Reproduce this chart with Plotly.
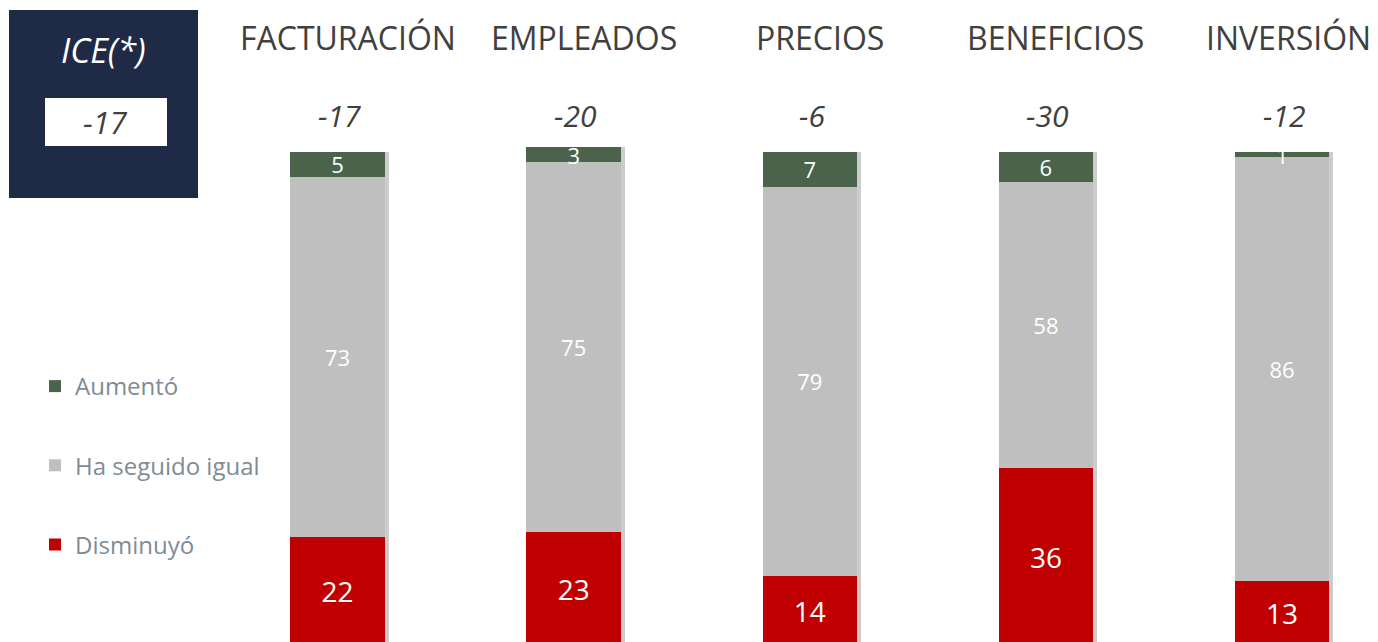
import plotly.graph_objects as go

categorias = ["FACTURACIÓN", "EMPLEADOS", "PRECIOS", "BENEFICIOS", "INVERSIÓN"]
disminuyo = [22, 23, 14, 36, 13]
igual = [73, 75, 79, 58, 86]
aumento = [5, 3, 7, 6, 1]
ice_valores = ["-17", "-20", "-6", "-30", "-12"]
ice_total = "-17"

VERDE = "#4B634B"
GRIS = "#BFBFBF"
ROJO = "#C00000"
NAVY = "#1F2B46"
TEXTO = "#404040"
LEYENDA = "#7F8B97"
FUENTE = "Open Sans"

# la pagina deja 8px de margen, asi que la figura ocupa 1370x634
W, H = 1370, 634
totales = [a + b + c for a, b, c in zip(disminuyo, igual, aumento)]


def px_x(p):
    return p / W


def px_y(p):
    return 1 - p / H


fig = go.Figure()

# sombra de las barras (eje base desplazado unos pixeles)
fig.add_trace(go.Bar(x=categorias, y=totales, xaxis="x", yaxis="y",
                     marker=dict(color="rgba(0,0,0,0.2)", line_width=0),
                     width=0.40, showlegend=False, hoverinfo="skip"))

series = [
    ("Disminuyó", disminuyo, ROJO, 28, 3),
    ("Ha seguido igual", igual, GRIS, 22, 2),
    ("Aumentó", aumento, VERDE, 22, 1),
]
for nombre, vals, color, tam, rank in series:
    fig.add_trace(go.Bar(
        x=categorias, y=vals, name=nombre, xaxis="x2", yaxis="y",
        marker=dict(color=color, line_width=0), width=0.40,
        text=[str(v) for v in vals], textposition="inside", textangle=0,
        insidetextanchor="middle", constraintext="none",
        textfont=dict(family=FUENTE, size=tam, color="white"),
        legendgroup=nombre, legendrank=rank, hoverinfo="skip",
    ))

paso = 236.1
c0 = 329.6
rango = [-c0 / paso, (W - c0) / paso]
desp = 4 / paso

fig.update_layout(
    width=W, height=H, barmode="stack",
    margin=dict(l=0, r=0, t=0, b=0),
    paper_bgcolor="white", plot_bgcolor="white",
    xaxis=dict(range=[rango[0] - desp, rango[1] - desp], visible=False),
    xaxis2=dict(range=rango, overlaying="x", visible=False),
    yaxis=dict(range=[0.7, 129.2], visible=False),
    legend=dict(x=px_x(27), y=px_y(356), xanchor="left", yanchor="top",
                traceorder="grouped", tracegroupgap=45,
                font=dict(family=FUENTE, size=24, color=LEYENDA),
                bgcolor="rgba(0,0,0,0)"),
    font=dict(family=FUENTE),
)

# recuadro ICE
fig.add_shape(type="rect", xref="paper", yref="paper",
              x0=px_x(1), x1=px_x(190), y0=px_y(190), y1=px_y(2),
              fillcolor=NAVY, line_width=0, layer="below")
fig.add_shape(type="rect", xref="paper", yref="paper",
              x0=px_x(37), x1=px_x(159), y0=px_y(138), y1=px_y(90),
              fillcolor="white", line_width=0)
fig.add_annotation(xref="paper", yref="paper", x=px_x(95), y=px_y(42),
                   xanchor="center", yanchor="middle",
                   text="<i>ICE(*)</i>", showarrow=False,
                   font=dict(family=FUENTE, size=34, color="white"))
fig.add_annotation(xref="paper", yref="paper", x=px_x(98), y=px_y(114),
                   xanchor="center", yanchor="middle",
                   text="<i>" + ice_total + "</i>", showarrow=False,
                   font=dict(family=FUENTE, size=31, color=TEXTO))

# cabeceras y valores ICE por categoria
for cat, v in zip(categorias, ice_valores):
    fig.add_annotation(xref="x2", yref="paper", x=cat, y=px_y(29),
                       xanchor="center", yanchor="middle",
                       xshift=6 if cat == "INVERSIÓN" else 10,
                       text=cat, showarrow=False,
                       font=dict(family=FUENTE, size=32, color=TEXTO))
    fig.add_annotation(xref="x2", yref="paper", x=cat, y=px_y(107),
                       xanchor="center", yanchor="middle",
                       xshift=2, text="<i>" + v + "</i>", showarrow=False,
                       font=dict(family=FUENTE, size=30, color=TEXTO))

fig.write_html("out.html")
